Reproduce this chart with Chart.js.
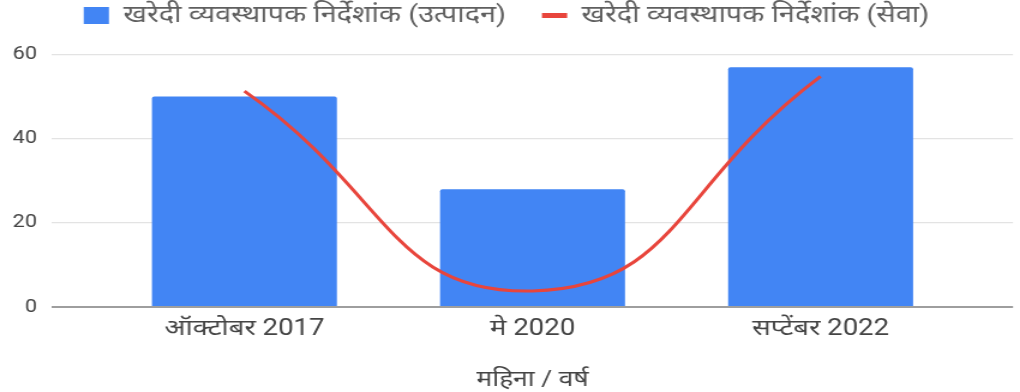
<!DOCTYPE html>
<html>
<head>
<meta charset="utf-8">
<script src="https://cdn.jsdelivr.net/npm/chart.js@4.4.1/dist/chart.umd.min.js"></script>
<style>
  html, body { margin: 0; padding: 0; background: #ffffff; overflow: hidden; }
  /* the chart is laid out on a narrower canvas and widened to 1020px */
  #wrap { width: 850px; height: 392px; transform: scaleX(1.2); transform-origin: 0 0; }
</style>
</head>
<body>
<div id="wrap"><canvas id="pmiChart" width="850" height="392"></canvas></div>
<script>
// Purchasing managers' index, manufacturing (bars) vs services (curve)
const categories = ['ऑक्टोबर 2017', 'मे 2020', 'सप्टेंबर 2022'];
const manufacturingPMI = [50, 28, 57];
const servicesPMI = [51.3, 3.8, 54.8];
const seriesNames = ['खरेदी व्यवस्थापक निर्देशांक (उत्पादन)', 'खरेदी व्यवस्थापक निर्देशांक (सेवा)'];
const yTicks = [0, 20, 40, 60];
const xAxisTitle = 'महिना / वर्ष';

const FONT = 'Roboto, "Noto Sans Devanagari", "Noto Sans", sans-serif';
const BAR_BLUE = '#4285f4';
const LINE_RED = '#e8453c';

const toPoints = arr => arr.map((v, i) => ({ x: i, y: v }));

new Chart(document.getElementById('pmiChart'), {
  type: 'bar',
  data: {
    datasets: [
      {
        type: 'bar',
        label: seriesNames[0],
        data: toPoints(manufacturingPMI),
        backgroundColor: BAR_BLUE,
        borderWidth: 0,
        borderRadius: 2,
        borderSkipped: 'bottom',
        categoryPercentage: 1,
        barPercentage: 0.642,
        order: 1
      },
      {
        type: 'line',
        label: seriesNames[1],
        data: toPoints(servicesPMI),
        borderColor: LINE_RED,
        backgroundColor: LINE_RED,
        borderWidth: 3,
        pointRadius: 0,
        pointHoverRadius: 0,
        tension: 0.5,
        fill: false,
        order: 0
      }
    ]
  },
  options: {
    responsive: false,
    animation: false,
    devicePixelRatio: 1,
    layout: { padding: { left: 0, right: 5.8, top: -26.5, bottom: 0 } },
    plugins: {
      tooltip: { enabled: false },
      legend: {
        position: 'top',
        align: 'center',
        labels: {
          usePointStyle: true,
          pointStyleWidth: 21,
          boxHeight: 17,
          padding: 30,
          color: '#5f5f5f',
          font: { family: FONT, size: 24 },
          sort: (a, b) => a.datasetIndex - b.datasetIndex,
          generateLabels(chart) {
            const items = Chart.defaults.plugins.legend.labels.generateLabels(chart);
            items.forEach(it => {
              if (it.datasetIndex === 0) {
                it.pointStyle = 'rect';
                it.lineWidth = 0;
              } else {
                it.pointStyle = 'line';
                it.lineWidth = 5;
              }
            });
            return items;
          }
        }
      },
      // empty title used as a gap between the legend and the plot
      title: {
        display: true,
        text: '',
        weight: 500,
        font: { size: 1, lineHeight: 1 },
        padding: { top: 0, bottom: 16 }
      }
    },
    scales: {
      x: {
        type: 'linear',
        min: -0.668,
        max: 2.668,
        offset: false,
        grid: { display: false, drawTicks: false },
        border: { display: false },
        afterBuildTicks: s => { s.ticks = categories.map((_, i) => ({ value: i })); },
        afterFit: s => { s.height = 85; },
        ticks: {
          autoSkip: false,
          maxRotation: 0,
          padding: 8,
          color: '#444444',
          font: { family: FONT, size: 23 },
          callback: v => categories[v]
        },
        title: {
          display: true,
          text: xAxisTitle,
          color: '#444444',
          font: { family: FONT, size: 22 },
          padding: { top: 0, bottom: -2 }
        }
      },
      y: {
        min: 0,
        max: 60,
        afterBuildTicks: s => { s.ticks = yTicks.map(v => ({ value: v })); },
        afterFit: s => { s.width = 43.3; },
        border: { display: false },
        grid: {
          drawTicks: false,
          color: c => (c.tick && c.tick.value === 0 ? '#9e9e9e' : '#e3e3e3'),
          lineWidth: c => (c.tick && c.tick.value === 0 ? 2 : 1.3)
        },
        ticks: {
          padding: 12.5,
          color: '#444444',
          font: { family: FONT, size: 18 }
        }
      }
    }
  }
});
</script>
</body>
</html>
